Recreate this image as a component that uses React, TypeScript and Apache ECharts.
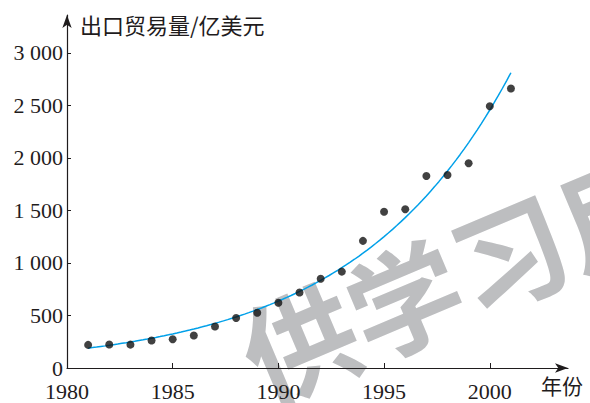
import React, { useEffect, useRef } from "react";
import * as echarts from "echarts";

const years = [1981, 1982, 1983, 1984, 1985, 1986, 1987, 1988, 1989, 1990, 1991, 1992, 1993, 1994, 1995, 1996, 1997, 1998, 1999, 2000, 2001];
const exports = [220.1, 223.2, 222.3, 261.4, 273.5, 309.4, 394.4, 475.2, 525.4, 620.9, 719.1, 849.4, 917.4, 1210.1, 1487.8, 1510.5, 1827.9, 1837.1, 1949.3, 2492.0, 2661.0];
const xTicks = [1980, 1985, 1990, 1995, 2000];
const yTicks = [0, 500, 1000, 1500, 2000, 2500, 3000];
// fitted exponential model y = A * B^(x - 1981)
const fitA = 189;
const fitB = 1.1445;
const fitStart = 1981;
const fitEnd = 2001;

const yName = "出口贸易量/亿美元";
const xName = "年份";
const watermark = "供学习用";

function fmtY(v: number): string {
  if (v >= 1000) {
    return `${Math.floor(v / 1000)} ${String(v % 1000).padStart(3, "0")}`;
  }
  return String(v);
}

export default function App() {
  const ref = useRef<HTMLDivElement>(null);
  useEffect(() => {
    if (!ref.current) return;
    const chart = echarts.init(ref.current, null, { renderer: "svg" });
    const curve: number[][] = [];
    for (let i = 0; i <= 100; i++) {
      const x = fitStart + ((fitEnd - fitStart) * i) / 100;
      curve.push([x, fitA * Math.pow(fitB, x - fitStart)]);
    }
    const ink = "#1f1c1d";
    const serif = "Liberation Serif";
    const cjk = "'Noto Sans CJK SC', sans-serif";
    chart.setOption({
      animation: false,
      backgroundColor: "#ffffff",
      grid: { left: 67, right: 22, top: 15, bottom: 35, containLabel: false },
      xAxis: {
        type: "value",
        min: 1980,
        max: 2003.7,
        interval: 5,
        splitLine: { show: false },
        axisLine: {
          onZero: false,
          lineStyle: { color: ink, width: 1.2 },
          symbol: ["none", "arrow"],
          symbolSize: [7, 13],
        },
        axisTick: { show: true, inside: true, length: 5, lineStyle: { color: ink, width: 1 }, customValues: xTicks },
        axisLabel: {
          color: ink,
          fontFamily: serif,
          fontSize: 22,
          margin: 12,
          customValues: xTicks,
          formatter: (v: number) => String(v),
        },
      },
      yAxis: {
        type: "value",
        min: 0,
        max: 3360,
        splitLine: { show: false },
        axisLine: {
          show: true,
          onZero: false,
          lineStyle: { color: ink, width: 1.2 },
          symbol: ["none", "arrow"],
          symbolSize: [7, 13],
        },
        axisTick: { show: true, inside: true, length: 4, lineStyle: { color: ink, width: 1 }, customValues: yTicks },
        axisLabel: {
          color: ink,
          fontFamily: serif,
          fontSize: 22,
          margin: 4,
          customValues: yTicks,
          formatter: (v: number) => fmtY(v),
        },
      },
      graphic: [
        {
          type: "text",
          z: 0,
          x: 268,
          y: 414,
          rotation: 0.4,
          style: {
            text: watermark,
            fill: "#bdbec0",
            font: `bold 114px ${cjk}`,
            textVerticalAlign: "bottom",
          },
        },
        {
          type: "text",
          x: 80,
          y: 13,
          style: { text: yName, fill: ink, font: `22px ${cjk}` },
        },
        {
          type: "text",
          x: 541,
          y: 374,
          style: { text: xName, fill: ink, font: `21px ${cjk}` },
        },
      ],
      series: [
        {
          type: "line",
          data: curve,
          showSymbol: false,
          symbol: "none",
          lineStyle: { color: "#00a0e9", width: 1.5 },
          z: 3,
        },
        {
          type: "scatter",
          data: years.map((y, i) => [y, exports[i]]),
          symbol: "circle",
          symbolSize: 8,
          itemStyle: { color: "#111111" },
          z: 4,
        },
      ],
    });
    return () => chart.dispose();
  }, []);
  return <div ref={ref} style={{ width: 590, height: 403, position: "absolute", left: 0, top: 0 }} />;
}
